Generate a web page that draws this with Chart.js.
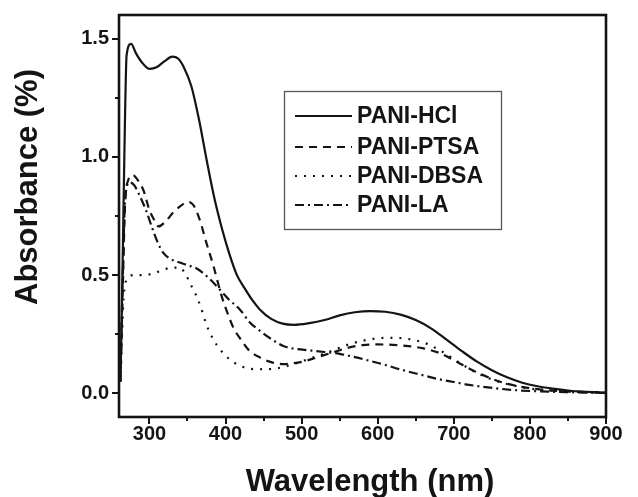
<!DOCTYPE html>
<html>
<head>
<meta charset="utf-8">
<script src="https://cdn.jsdelivr.net/npm/chart.js@4/dist/chart.umd.min.js"></script>
<style>
html,body{margin:0;padding:0;background:#fff;}
#wrap{width:638px;height:497px;}
</style>
</head>
<body>
<div id="wrap"><canvas id="c" width="638" height="497"></canvas></div>
<script>
// ---- data ----
const seriesNames = ['PANI-HCl', 'PANI-PTSA', 'PANI-DBSA', 'PANI-LA'];

const hclWl  = [262,265,267,270,276,282,290,300,310,320,330,338,345,355,365,375,385,395,405,415,425,435,445,460,475,490,510,530,550,570,590,610,630,650,670,690,710,730,750,770,790,810,830,850,870,900];
const hclAbs = [0.05,0.60,1.00,1.43,1.478,1.44,1.40,1.372,1.38,1.405,1.424,1.415,1.38,1.30,1.16,0.99,0.83,0.70,0.59,0.50,0.445,0.395,0.355,0.315,0.295,0.29,0.297,0.31,0.33,0.343,0.348,0.345,0.333,0.31,0.275,0.228,0.18,0.135,0.098,0.068,0.045,0.03,0.02,0.012,0.007,0.003];

const ptsaWl  = [262,265,268,272,278,286,292,300,306,312,322,332,342,350,358,366,375,384,395,402,410,420,430,445,460,475,490,505,520,540,560,580,600,620,640,660,680,700,720,740,760,780,800,820,850,900];
const ptsaAbs = [0.05,0.45,0.80,0.90,0.923,0.895,0.86,0.775,0.735,0.706,0.73,0.768,0.795,0.81,0.795,0.735,0.635,0.54,0.41,0.345,0.28,0.228,0.185,0.152,0.132,0.124,0.128,0.137,0.152,0.172,0.192,0.204,0.207,0.205,0.20,0.19,0.172,0.14,0.105,0.075,0.05,0.033,0.022,0.014,0.008,0.003];

const dbsaWl  = [262,264,266,270,280,292,305,318,330,340,348,355,362,368,375,384,393,405,420,440,460,480,500,520,540,560,580,600,620,640,660,680,700,720,740,760,780,800,830,860,900];
const dbsaAbs = [0.05,0.25,0.40,0.48,0.50,0.50,0.507,0.522,0.532,0.532,0.50,0.455,0.41,0.36,0.29,0.228,0.185,0.145,0.115,0.102,0.103,0.115,0.135,0.157,0.18,0.205,0.222,0.233,0.235,0.23,0.215,0.185,0.145,0.105,0.072,0.048,0.032,0.02,0.012,0.007,0.003];

const laWl  = [262,265,268,274,280,288,296,303,310,318,328,340,352,362,372,382,392,405,419,432,445,460,476,492,510,530,550,570,590,610,630,655,680,700,720,745,775,800,850,900];
const laAbs = [0.10,0.50,0.82,0.892,0.88,0.83,0.77,0.705,0.645,0.595,0.568,0.553,0.54,0.528,0.505,0.475,0.44,0.395,0.354,0.30,0.265,0.23,0.20,0.188,0.182,0.175,0.167,0.153,0.137,0.12,0.101,0.08,0.06,0.048,0.036,0.025,0.015,0.01,0.005,0.002];

const xTickValues = [300,400,500,600,700,800,900];
const yTickValues = [0.0,0.5,1.0,1.5];
const xTitle = 'Wavelength (nm)';
const yTitle = 'Absorbance (%)';

// ---- helpers ----
function pts(xs, ys){ return xs.map((x,i)=>({x:x, y:ys[i]})); }
const dashes = [[], [8,6], [2,7], [9,4,2,4]];
const FONT = '"Liberation Sans", Arial, Helvetica, sans-serif';
const INK = '#141414';

const wlSets  = [hclWl, ptsaWl, dbsaWl, laWl];
const absSets = [hclAbs, ptsaAbs, dbsaAbs, laAbs];

const datasets = seriesNames.map((name,i)=>({
  label: name,
  data: pts(wlSets[i], absSets[i]),
  borderColor: INK,
  borderWidth: 2.2,
  borderDash: dashes[i],
  pointRadius: 0,
  fill: false,
  showLine: true,
  cubicInterpolationMode: 'monotone'
}));

const decor = {
  id: 'decor',
  afterDraw(chart){
    const ctx = chart.ctx;
    const a = chart.chartArea;
    const xs = chart.scales.x, ys = chart.scales.y;
    ctx.save();
    // ticks (major + minor, outward)
    ctx.strokeStyle = INK; ctx.lineWidth = 2;
    for (let v = 300; v <= 900; v += 50){
      const px = Math.round(xs.getPixelForValue(v));
      const len = (v % 100 === 0) ? 7 : 4;
      ctx.beginPath(); ctx.moveTo(px, a.bottom); ctx.lineTo(px, a.bottom + len); ctx.stroke();
    }
    for (let k = 0; k <= 6; k++){
      const v = k*0.25;
      const py = Math.round(ys.getPixelForValue(v));
      const len = (k % 2 === 0) ? 7 : 4;
      ctx.beginPath(); ctx.moveTo(a.left, py); ctx.lineTo(a.left - len, py); ctx.stroke();
    }
    // frame
    ctx.lineWidth = 2.6;
    ctx.strokeRect(a.left, a.top, a.right - a.left, a.bottom - a.top);

    // legend box
    const bx = 284, by = 91, bw = 217, bh = 138;
    ctx.lineWidth = 1.3; ctx.strokeStyle = '#555';
    ctx.strokeRect(bx + 0.5, by + 0.5, bw, bh);
    const rows = [116, 147, 176, 205];
    ctx.font = 'bold 23px ' + FONT;
    ctx.textBaseline = 'middle';
    ctx.fillStyle = INK;
    rows.forEach((ry,i)=>{
      ctx.strokeStyle = INK; ctx.lineWidth = 2.2;
      ctx.setLineDash(dashes[i]);
      ctx.beginPath(); ctx.moveTo(295, ry); ctx.lineTo(352, ry); ctx.stroke();
      ctx.setLineDash([]);
      ctx.fillText(seriesNames[i], 357, ry + 1);
    });

    // axis titles
    ctx.font = 'bold 31px ' + FONT;
    ctx.textAlign = 'center';
    ctx.textBaseline = 'alphabetic';
    ctx.fillText(xTitle, 370, 491);
    ctx.save();
    ctx.translate(28, 187);
    ctx.rotate(-Math.PI/2);
    ctx.textBaseline = 'middle';
    ctx.fillText(yTitle, 0, 0);
    ctx.restore();
    ctx.restore();
  }
};

new Chart(document.getElementById('c'), {
  type: 'scatter',
  data: { datasets },
  options: {
    responsive: false,
    animation: false,
    layout: { padding: { left: 0, right: 32, top: 15, bottom: 0 } },
    plugins: { legend: { display: false }, tooltip: { enabled: false } },
    scales: {
      x: {
        type: 'linear', min: 260, max: 900,
        grid: { display: false, drawTicks: false },
        border: { display: false },
        afterFit(s){ s.height = 80; s.paddingLeft = 0; s.paddingRight = 0; },
        afterBuildTicks(s){ s.ticks = xTickValues.map(v=>({value:v})); },
        ticks: { padding: 5, color: INK, font: { family: FONT, size: 20, weight: 'bold' }, maxRotation: 0, autoSkip: false }
      },
      y: {
        type: 'linear', min: -0.1, max: 1.6,
        grid: { display: false, drawTicks: false },
        border: { display: false },
        afterFit(s){ s.width = 119; s.paddingTop = 0; s.paddingBottom = 0; },
        afterBuildTicks(s){ s.ticks = yTickValues.map(v=>({value:v})); },
        ticks: { padding: 10, color: INK, font: { family: FONT, size: 20, weight: 'bold' },
                 callback: v => Number(v).toFixed(1) }
      }
    }
  },
  plugins: [decor]
});
</script>
</body>
</html>
